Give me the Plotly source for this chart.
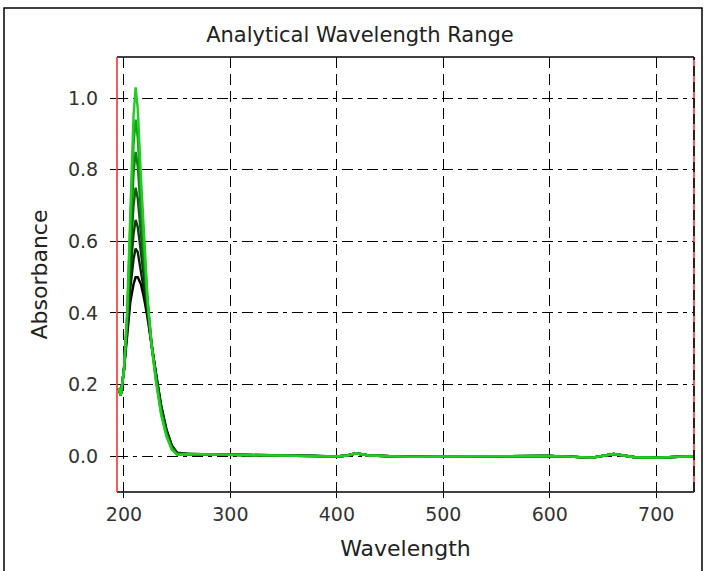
import plotly.graph_objects as go

# Wavelengths (nm) for the peak region and the flat tail
peak_wl = [195, 197, 200, 203, 206, 209, 211, 213, 216, 219, 222, 226, 230, 235, 240, 245, 250]
tail_wl = [260, 300, 350, 380, 400, 410, 418, 430, 470, 500, 550, 600, 640, 660, 680, 700, 735]

# Tail absorbance (shared by all spectra)
tail_abs = [0.006, 0.004, 0.003, 0.001, -0.001, 0.002, 0.008, 0.002, -0.002, -0.001,
            0.0, 0.001, -0.004, 0.006, -0.003, -0.004, 0.0]

# Peak-region absorbance for each spectrum
spec_1 = [0.19, 0.17, 0.24, 0.34, 0.43, 0.48, 0.50, 0.50, 0.48, 0.44, 0.39, 0.31, 0.23, 0.14, 0.075, 0.030, 0.010]
spec_2 = [0.19, 0.17, 0.24, 0.35, 0.47, 0.55, 0.58, 0.57, 0.52, 0.46, 0.40, 0.31, 0.23, 0.14, 0.070, 0.028, 0.009]
spec_3 = [0.19, 0.17, 0.24, 0.36, 0.51, 0.62, 0.66, 0.64, 0.57, 0.49, 0.41, 0.31, 0.23, 0.135, 0.068, 0.026, 0.008]
spec_4 = [0.19, 0.17, 0.24, 0.37, 0.55, 0.70, 0.75, 0.72, 0.62, 0.52, 0.42, 0.31, 0.225, 0.13, 0.065, 0.024, 0.007]
spec_5 = [0.19, 0.17, 0.24, 0.38, 0.60, 0.79, 0.85, 0.81, 0.68, 0.55, 0.43, 0.31, 0.22, 0.125, 0.062, 0.022, 0.006]
spec_6 = [0.19, 0.17, 0.24, 0.39, 0.64, 0.87, 0.94, 0.89, 0.73, 0.57, 0.44, 0.31, 0.215, 0.12, 0.058, 0.020, 0.005]
spec_7 = [0.19, 0.17, 0.24, 0.40, 0.68, 0.95, 1.03, 0.97, 0.78, 0.60, 0.45, 0.31, 0.21, 0.115, 0.055, 0.018, 0.004]

spectra = [spec_1, spec_2, spec_3, spec_4, spec_5, spec_6, spec_7]
colors = ["#000000", "#0a260a", "#0c420c", "#0e600e", "#108210", "#12a612", "#22cc22"]

x_ticks = [200, 300, 400, 500, 600, 700]
y_ticks = [0.0, 0.2, 0.4, 0.6, 0.8, 1.0]

fig = go.Figure()
for vals, col in zip(spectra, colors):
    fig.add_trace(go.Scatter(
        x=peak_wl + tail_wl, y=vals + tail_abs, mode="lines",
        line=dict(color=col, width=2.4), showlegend=False, hoverinfo="skip"))

font = "DejaVu Sans, sans-serif"
grid = dict(showgrid=True, gridcolor="#000000", gridwidth=1, griddash="11px,5px,4px,5px",
            zeroline=False, showline=False, ticks="outside", ticklen=6,
            tickcolor="#000", tickfont=dict(family=font, size=19, color="#333"))

fig.update_layout(
    width=705, height=571,
    paper_bgcolor="white", plot_bgcolor="white",
    margin=dict(l=117, r=11, t=57, b=79),
    title=dict(text="Analytical Wavelength Range", x=(360 - 117) / 577, xref="paper",
               xanchor="center", y=1 - 35 / 571, yanchor="middle",
               font=dict(family=font, size=21, color="#222")),
    xaxis=dict(range=[193.5, 735.5], tickvals=x_ticks, **grid,
               title=dict(text="Wavelength", font=dict(family=font, size=22, color="#222"),
                          standoff=16)),
    yaxis=dict(range=[-0.1, 1.115], tickvals=y_ticks, tickformat=".1f", **grid,
               ticklabelstandoff=8,
               title=dict(text="Absorbance", font=dict(family=font, size=22, color="#222"),
                          standoff=14)),
)
fig.update_xaxes(griddash="11px,6px", ticklen=5)

# plot frame: black top/bottom, red sides
fig.add_shape(type="line", xref="paper", yref="paper", x0=0, x1=1, y0=1, y1=1,
              line=dict(color="#000", width=1.5))
fig.add_shape(type="line", xref="paper", yref="paper", x0=0, x1=1, y0=0, y1=0,
              line=dict(color="#000", width=1.5))
fig.add_shape(type="line", xref="paper", yref="paper", x0=0, x1=0, y0=0, y1=1,
              line=dict(color="#ff2020", width=1.5))
fig.add_shape(type="line", xref="paper", yref="paper", x0=1, x1=1, y0=0, y1=1,
              line=dict(color="#ff2020", width=1.5))
fig.add_shape(type="line", xref="paper", yref="paper", x0=1, x1=1, y0=0, y1=1,
              line=dict(color="#000", width=1.5, dash="10px,6px"))
# outer frame
fig.add_shape(type="rect", xref="paper", yref="paper",
              x0=(4 - 117) / 577, x1=(702 - 117) / 577,
              y0=(492 - 580) / 435, y1=(492 - 8) / 435,
              line=dict(color="#000", width=1.5), layer="below")

fig.write_html("out.html", config={"displayModeBar": False},
               post_script="document.body.style.margin='0';document.body.style.padding='0';")
